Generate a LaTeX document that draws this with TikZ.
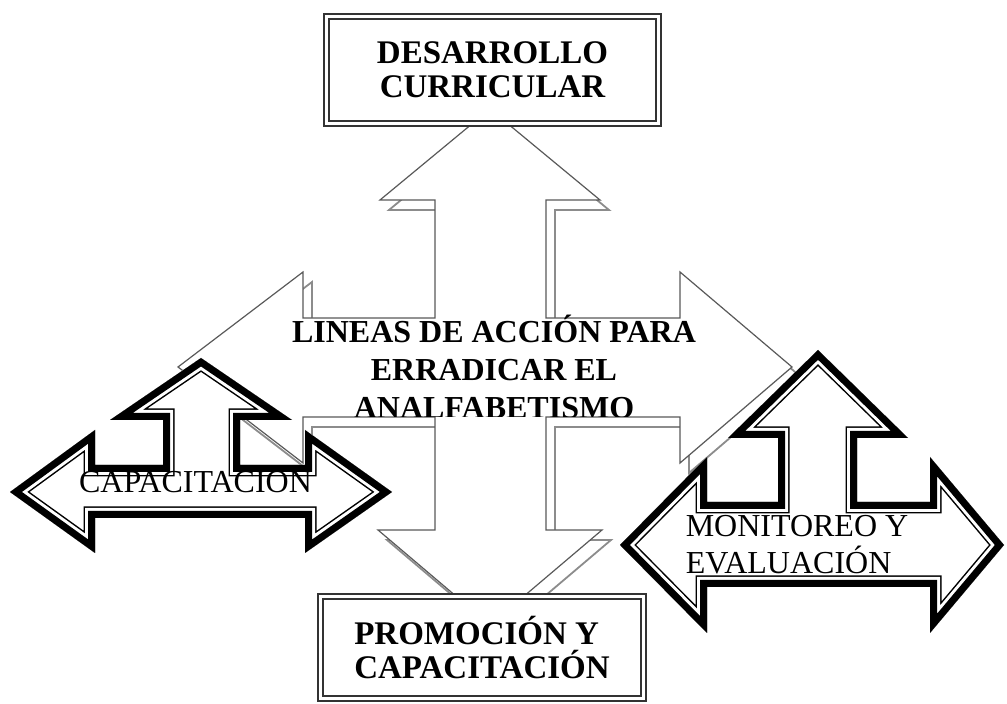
\documentclass[tikz,border=0pt]{standalone}
\usepackage{fontspec}
\setmainfont{Liberation Serif}

% outlines of the three arrows
\newcommand{\lineaspath}{(490,109) -- (600,200) -- (546,200) -- (546,318) -- (680,318) -- (680,272) -- (792,367) -- (680,463) -- (680,417) -- (546,417) -- (546,530) -- (602,530) -- (490,625) -- (378,530) -- (435,530) -- (435,417) -- (303,417) -- (303,463) -- (178,367) -- (303,272) -- (303,318) -- (435,318) -- (435,200) -- (380,200) -- cycle}
\newcommand{\capapath}{(201,358) -- (292,420) -- (240,420) -- (240,465) -- (305,465) -- (305,430) -- (392,492) -- (305,553) -- (305,518) -- (95,518) -- (95,553) -- (10,492) -- (95,430) -- (95,465) -- (163,465) -- (163,420) -- (110,420) -- cycle}
\newcommand{\monipath}{(818,350) -- (908,438) -- (857,438) -- (857,502) -- (930,502) -- (930,457) -- (1004,545) -- (930,633) -- (930,587) -- (707,587) -- (707,633) -- (620,545) -- (707,457) -- (707,502) -- (778,502) -- (778,438) -- (728,438) -- cycle}

\begin{document}
\begin{tikzpicture}[x=0.5pt,y=-0.5pt,
    grayline/.style={draw=black!65,line width=0.6pt},
    shadowline/.style={draw=black!45,line width=0.9pt},
    caja/.style={draw=black!80,double=white,double distance=1.5pt,line width=1pt,fill=white,
      align=center,inner sep=0pt,font=\fontsize{16.5}{17}\selectfont\bfseries},
    etiqueta/.style={inner sep=0pt,font=\fontsize{16}{18.5}\selectfont}]
  \useasboundingbox (0,0) rectangle (1007,704);

  % big four way arrow
  \draw[shadowline,shift={(9,10)}] \lineaspath;
  \draw[grayline,fill=white] \lineaspath;
  \begin{scope}
    \clip (250,290) rectangle (740,417);
    \node[align=center,inner sep=0pt,font=\fontsize{16}{19}\selectfont\bfseries] (lineas) at (494,367)
      {LINEAS DE ACCIÓN PARA\\ERRADICAR EL\\ANALFABETISMO};
  \end{scope}

  % boxes
  \node[caja,minimum width=166pt,minimum height=53.5pt] (arriba) at (492.5,70) {DESARROLLO\\CURRICULAR};
  \node[caja,minimum width=161.5pt,minimum height=51pt,align=left] (abajo) at (482,647.5) {PROMOCIÓN Y\\CAPACITACIÓN};

  % left arrow
  \begin{scope}
    \clip \capapath;
    \fill[white] \capapath;
    \draw[line width=11.5pt] \capapath;
    \draw[white,line width=10pt] \capapath;
    \draw[line width=7pt] \capapath;
  \end{scope}
  \node[etiqueta,anchor=base] (capa) at (195.5,493) {CAPACITACION};

  % right arrow
  \begin{scope}
    \clip \monipath;
    \fill[white] \monipath;
    \draw[line width=11.5pt] \monipath;
    \draw[white,line width=10pt] \monipath;
    \draw[line width=7pt] \monipath;
  \end{scope}
  \node[etiqueta,align=left] (moni) at (797,545) {MONITOREO Y\\EVALUACIÓN};
\end{tikzpicture}
\end{document}
